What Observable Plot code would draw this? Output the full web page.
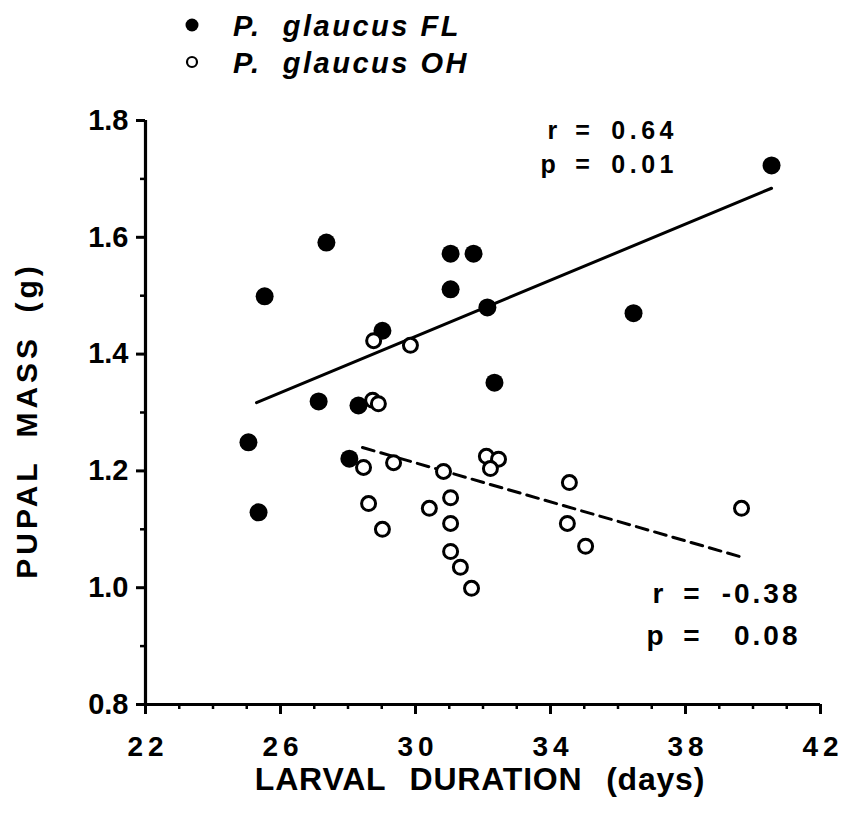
<!DOCTYPE html>
<html>
<head>
<meta charset="utf-8">
<script src="https://cdn.jsdelivr.net/npm/d3@7"></script>
<script src="https://cdn.jsdelivr.net/npm/@observablehq/plot@0.6"></script>
<style>
  html, body { margin: 0; padding: 0; background: #fff; }
  body { width: 843px; height: 821px; overflow: hidden; font-family: "Liberation Sans", Arial, Helvetica, sans-serif; }
  #legend { position: relative; width: 843px; height: 80px; }
  #legend .item { position: absolute; left: 0; font-weight: bold; font-style: italic; font-size: 29px; letter-spacing: 2.5px; white-space: pre; line-height: 1; }
  #legend svg { position: absolute; left: 0; top: 0; }
  #chart svg text { white-space: pre; }
</style>
</head>
<body>
<div id="legend"></div>
<div id="chart"></div>
<script>
// P. glaucus FL (filled circles)
const flX = [40.55, 27.36, 25.53, 31.04, 31.72, 31.04, 32.13, 29.02, 27.13, 28.31, 32.34, 36.46, 25.05, 25.35, 28.04];
const flY = [1.723, 1.591, 1.499, 1.572, 1.572, 1.511, 1.480, 1.440, 1.319, 1.312, 1.351, 1.470, 1.249, 1.129, 1.221];
// P. glaucus OH (open circles)
const ohX = [28.76, 29.85, 28.73, 28.90, 28.46, 29.35, 30.83, 32.10, 32.46, 32.22, 34.56, 31.04, 28.61, 30.41, 31.04, 34.50, 29.02, 31.04, 31.33, 31.66, 35.04, 39.66];
const ohY = [1.423, 1.415, 1.321, 1.315, 1.206, 1.214, 1.199, 1.225, 1.220, 1.204, 1.180, 1.154, 1.144, 1.136, 1.110, 1.110, 1.100, 1.062, 1.035, 0.999, 1.071, 1.136];
// fitted regression lines (endpoints in data units)
const fitFLX = [25.29, 40.55];
const fitFLY = [1.317, 1.684];
const fitOHX = [28.43, 39.63];
const fitOHY = [1.240, 1.053];
// axis ticks
const xMajor = [22, 26, 30, 34, 38, 42];
const xMinor = d3.range(22, 43, 1);
const yMajor = [0.8, 1.0, 1.2, 1.4, 1.6, 1.8];
const yMinor = [0.9, 1.1, 1.3, 1.5, 1.7];
// labels
const seriesNames = ["P.  glaucus FL", "P.  glaucus OH"];
const statNames = ["r", "p"];
const statsFL = ["0.64", "0.01"];
const statsOH = ["-0.38", "0.08"];
const xLabel = "LARVAL DURATION (days)";
const yLabel = "PUPAL MASS (g)";

const fl = flX.map((x, i) => ({x, y: flY[i]}));
const oh = ohX.map((x, i) => ({x, y: ohY[i]}));
const fitFL = fitFLX.map((x, i) => ({x, y: fitFLY[i]}));
const fitOH = fitOHX.map((x, i) => ({x, y: fitOHY[i]}));

const font = "'Liberation Sans', Arial, Helvetica, sans-serif";

function statBlock(names, values, anchor, nameDx, eqDx, valDx, dys, fontSize, spacing) {
  const marks = [];
  names.forEach((n, i) => {
    const common = {frameAnchor: anchor, lineAnchor: "middle", dy: dys[i], fontSize, fontWeight: "bold"};
    marks.push(Plot.text([n], {...common, textAnchor: "start", dx: nameDx[i]}));
    marks.push(Plot.text(["="], {...common, textAnchor: "middle", dx: eqDx}));
    marks.push(Plot.text([values[i]], {...common, textAnchor: "end", dx: valDx + spacing, className: "spaced-" + String(spacing).replace(".", "_")}));
  });
  return marks;
}

const plot = Plot.plot({
  width: 843,
  height: 741,
  marginLeft: 145,
  marginRight: 23,
  marginTop: 40,
  marginBottom: 117,
  style: {fontFamily: font, background: "white", color: "black", overflow: "visible"},
  x: {domain: [22, 42], axis: null},
  y: {domain: [0.8, 1.8], axis: null},
  marks: [
    // minor ticks
    Plot.axisX(xMinor, {tickSize: 5, strokeWidth: 2.5, text: null, label: null}),
    Plot.axisY(yMinor, {tickSize: 5, strokeWidth: 2.5, text: null, label: null}),
    // major ticks + labels
    Plot.axisX(xMajor, {tickSize: 10, strokeWidth: 3, tickPadding: 22, fontSize: 28, fontWeight: "bold", label: null, tickFormat: d => String(d), className: "xticks"}),
    Plot.axisY(yMajor, {tickSize: 9, strokeWidth: 3, tickPadding: 8, fontSize: 29, fontWeight: "bold", label: null, tickFormat: d3.format(".1f")}),
    // axis lines
    Plot.ruleX([22], {strokeWidth: 3.2}),
    Plot.ruleY([0.8], {strokeWidth: 3.2}),
    // regression lines
    Plot.line(fitFL, {x: "x", y: "y", strokeWidth: 3}),
    Plot.line(fitOH, {x: "x", y: "y", strokeWidth: 3, strokeDasharray: "12,7"}),
    // data
    Plot.dot(fl, {x: "x", y: "y", r: 9, fill: "black", stroke: "none"}),
    Plot.dot(oh, {x: "x", y: "y", r: 7, fill: "white", stroke: "black", strokeWidth: 3}),
    // stats annotations
    ...statBlock(statNames, statsFL, "top-right", [-273, -280], -238, -147, [10, 44], 25, 4.5),
    ...statBlock(statNames, statsOH, "bottom-right", [-168, -174], -129, -23, [-110, -68], 28, 3),
    // axis titles
    Plot.text([xLabel], {frameAnchor: "bottom", textAnchor: "middle", lineAnchor: "middle", dy: 75, dx: -3, fontSize: 32, fontWeight: "bold", className: "xlab"}),
    Plot.text([yLabel], {frameAnchor: "left", textAnchor: "middle", lineAnchor: "middle", rotate: -90, dx: -118, dy: 8, fontSize: 30, fontWeight: "bold", className: "ylab"})
  ]
});
document.getElementById("chart").appendChild(plot);

// letter / word spacing
const sel = d3.select(plot);
sel.selectAll("g[aria-label='x-axis tick label'] text").style("letter-spacing", "5px").attr("dx", 2.5);
sel.selectAll(".spaced-4_5 text").style("letter-spacing", "4.5px");
sel.selectAll(".spaced-3 text").style("letter-spacing", "3px");
sel.selectAll(".xlab text").style("letter-spacing", "0.8px").style("word-spacing", "14px");
sel.selectAll(".ylab text").style("letter-spacing", "4px").style("word-spacing", "10px");

// legend
const legend = d3.select("#legend");
const lsvg = legend.append("svg").attr("width", 843).attr("height", 80);
lsvg.append("circle").attr("cx", 192).attr("cy", 25).attr("r", 6.5).attr("fill", "black");
lsvg.append("circle").attr("cx", 192).attr("cy", 62).attr("r", 5).attr("fill", "white").attr("stroke", "black").attr("stroke-width", 2.2);
seriesNames.forEach((name, i) => {
  legend.append("div").attr("class", "item")
    .style("left", "233px").style("top", (i === 0 ? 12 : 49) + "px")
    .text(name);
});
</script>
</body>
</html>
